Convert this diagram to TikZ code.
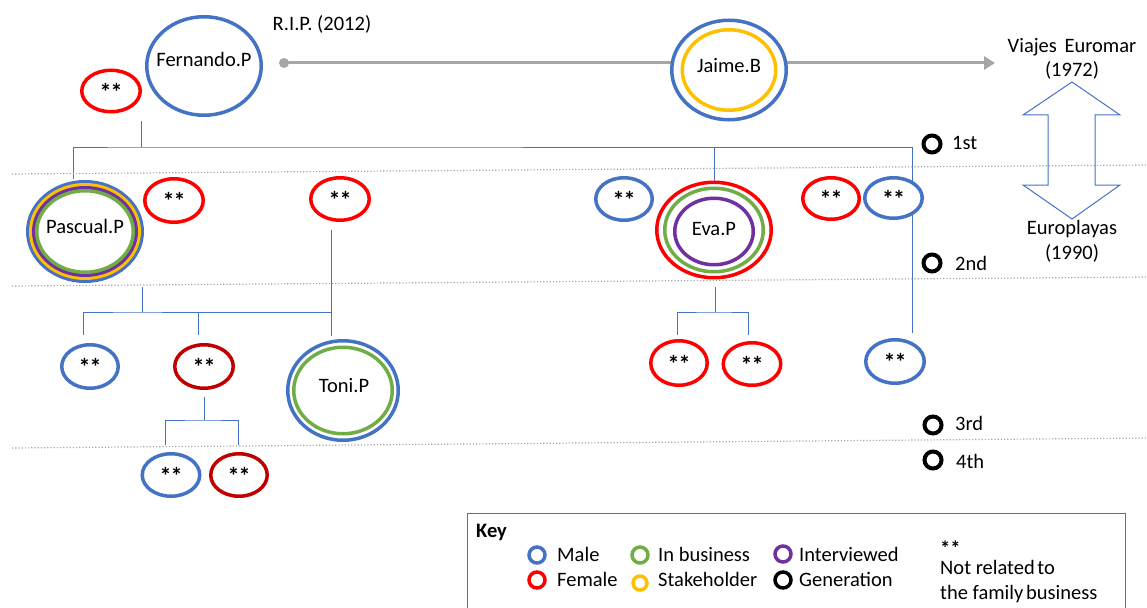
\documentclass[tikz,border=0pt]{standalone}
\usepackage{fontspec}
\setmainfont{Carlito}
\usetikzlibrary{shapes.geometric,arrows.meta,backgrounds}

\definecolor{mblue}{RGB}{68,114,196}
\definecolor{fred}{RGB}{255,0,0}
\definecolor{dred}{RGB}{192,0,0}
\definecolor{bgreen}{RGB}{112,173,71}
\definecolor{sgold}{RGB}{255,192,0}
\definecolor{ipurple}{RGB}{112,48,160}
\definecolor{arrowgrey}{RGB}{166,166,166}
\definecolor{dotgrey}{RGB}{165,165,165}

\newcommand{\starmark}{*\kern-1pt*}

\begin{document}
\begin{tikzpicture}[x=1pt,y=-1pt,
  every node/.style={font=\fontsize{20.5}{24}\selectfont},
  person/.style n args={3}{ellipse, draw=#1, line width=3.5pt, fill=white,
    inner sep=0pt, outer sep=0pt, minimum width=#2, minimum height=#3},
  txt/.style={inner sep=0pt, text height=0.65em, text depth=0.15em},
  stars/.style={inner sep=0pt, text height=0.65em, text depth=0.15em,
    font=\fontsize{24}{24}\selectfont\bfseries, yshift=-6.5pt},
  lbl/.style={inner sep=0pt, anchor=base},
  lblw/.style={inner sep=0pt, anchor=base west},
  ringline/.style={line width=3.5pt},
  tree/.style={draw=mblue, line width=1pt},
  sepline/.style={draw=dotgrey, line width=1.2pt, dotted},
  gen/.style={circle, draw=black, line width=4pt, minimum size=17pt, inner sep=0pt},
  keydot/.style={circle, draw=#1, line width=3.5pt, minimum size=16pt, inner sep=0pt},
]
\useasboundingbox (0,0) rectangle (1147,607);

% ---------- generation separators ----------
\draw[sepline] (12,174) -- (1147,165);
\draw[sepline] (12,286) -- (1147,277);
\draw[sepline] (12,448) -- (1147,438);

% ---------- first generation ----------
\node[person={mblue}{114.5pt}{98.5pt}] (fer) at (204,66) {};
\node[txt] (fer-t) at (204,64) {Fernando.P};
\node[person={fred}{58.5pt}{41.5pt}] (ferW) at (111,91) {};
\node[stars] (ferW-t) at (ferW) {\starmark};

\node[txt] (rip) at (322,28) {R.I.P. (2012)};

\node[person={mblue}{114.5pt}{99.5pt}] (jai) at (729,70) {};
\draw[ringline, sgold] (jai.center) ellipse [x radius=46.75, y radius=40.25];
\node[txt] (jai-t) at (729,70) {Jaime.B};

\node[circle, fill=arrowgrey, minimum size=10pt, inner sep=0pt] (ripdot) at (284,63) {};
\coordinate (vem) at (995,63);

\node[lbl] (vem1) at (1072,52.5) {Viajes\hspace{3pt} Euromar};
\node[lbl] (vem2) at (1072,76.5) {(1972)};
\node[lbl] (eup1) at (1072,234.5) {Europlayas};
\node[lbl] (eup2) at (1072,259.5) {(1990)};

% ---------- second generation ----------
\node[person={mblue}{114.5pt}{99.5pt}] (pas) at (85,231.5) {};
\draw[ringline, sgold]   (pas.center) ellipse [x radius=54.25, y radius=46.75];
\draw[ringline, ipurple] (pas.center) ellipse [x radius=51.25, y radius=43.75];
\draw[ringline, bgreen]  (pas.center) ellipse [x radius=48.25, y radius=40.75];
\node[txt] (pas-t) at (85,231) {Pascual.P};

\node[person={fred}{58.5pt}{43.5pt}] (m2a) at (174,200.5) {};
\node[stars] (m2a-t) at (m2a) {\starmark};
\node[person={fred}{58.5pt}{42.5pt}] (m2b) at (340,199) {};
\node[stars] (m2b-t) at (m2b) {\starmark};

\node[person={mblue}{56.5pt}{42.5pt}] (e2a) at (624,199) {};
\node[stars] (e2a-t) at (e2a) {\starmark};

\node[person={fred}{114.5pt}{95.5pt}] (eva) at (714,230) {};
\draw[ringline, bgreen]  (eva.center) ellipse [x radius=49.25, y radius=41.75];
\draw[ringline, ipurple] ([yshift=-1.5pt]eva.center) ellipse [x radius=39.25, y radius=33.25];
\node[txt] (eva-t) at (714,233) {Eva.P};

\node[person={fred}{56.5pt}{41.5pt}] (e2b) at (831,198.5) {};
\node[stars] (e2b-t) at (e2b) {\starmark};
\node[person={mblue}{57.5pt}{40.5pt}] (e2c) at (893.5,198) {};
\node[stars] (e2c-t) at (e2c) {\starmark};

% ---------- third generation ----------
\node[person={mblue}{56.5pt}{43.5pt}] (c3a) at (90,366.5) {};
\node[stars] (c3a-t) at (c3a) {\starmark};
\node[person={dred}{58.5pt}{43.5pt}] (c3b) at (204,366.5) {};
\node[stars] (c3b-t) at (c3b) {\starmark};

\node[person={mblue}{110.5pt}{99.5pt}] (toni) at (343,390.5) {};
\draw[ringline, bgreen] (toni.center) ellipse [x radius=49.25, y radius=43.25];
\node[txt] (toni-t) at (344,390) {Toni.P};

\node[person={fred}{56.5pt}{44.5pt}] (c3c) at (679,363) {};
\node[stars] (c3c-t) at (c3c) {\starmark};
\node[person={fred}{57.5pt}{42.5pt}] (c3d) at (752,364) {};
\node[stars] (c3d-t) at (c3d) {\starmark};
\node[person={mblue}{58.5pt}{43.5pt}] (c3e) at (895,361.5) {};
\node[stars] (c3e-t) at (c3e) {\starmark};

% ---------- fourth generation ----------
\node[person={mblue}{57.5pt}{42.5pt}] (c4a) at (171,475) {};
\node[stars] (c4a-t) at (c4a) {\starmark};
\node[person={dred}{56.5pt}{42.5pt}] (c4b) at (239,475) {};
\node[stars] (c4b-t) at (c4b) {\starmark};

% ---------- generation markers ----------
\node[gen] (g1) at (932,144) {};
\node[anchor=west, inner sep=0pt] (g1-t) at (952,143) {1st};
\node[gen] (g2) at (932,263) {};
\node[anchor=west, inner sep=0pt] (g2-t) at (955,263) {2nd};
\node[gen] (g3) at (933,425) {};
\node[anchor=west, inner sep=0pt] (g3-t) at (955,423) {3rd};
\node[gen] (g4) at (933,460) {};
\node[anchor=west, inner sep=0pt] (g4-t) at (956,461) {4th};

% ---------- business change arrow ----------
\draw[mblue, line width=1pt, line join=miter]
  (1072,82) -- (1120,115) -- (1095,115) -- (1095,185) -- (1120,185)
  -- (1072,219) -- (1023,185) -- (1048,185) -- (1048,115) -- (1023,115) -- cycle;

% ---------- family connectors ----------
\coordinate (ferKids) at (141,121);
\coordinate (ferBar)  at (141,147);
\coordinate (pasDrop) at (73,179);
\coordinate (rightDrop) at (912,333);
\coordinate (pasKids) at (142,287);
\coordinate (pasBar)  at (142,312);
\coordinate (pasD1) at (83,335);
\coordinate (pasD2) at (198,335);
\coordinate (m2bLine) at (331,230);
\coordinate (toniTop) at (331,336);
\coordinate (evaKids) at (715,287);
\coordinate (evaBar)  at (715,312);
\coordinate (evaD1) at (677,335);
\coordinate (evaD2) at (748,335);
\coordinate (c3bKids) at (204,397);
\coordinate (c3bBar)  at (204,420);
\coordinate (c3bD1) at (165,445);
\coordinate (c3bD2) at (238,445);

\begin{scope}[on background layer]
  \draw[arrowgrey, line width=3pt, -{Triangle[length=11pt,width=13pt]}] (ripdot.center) -- (vem);
  \draw[tree] (ferKids) -- (ferBar);
  \draw[tree] (pasDrop) |- (ferBar) -| (rightDrop);
  \draw[tree] (eva.north |- ferBar) -- (eva.north);
  \draw[tree] (pasKids) -- (pasBar);
  \draw[tree] (pasD1) |- (pasBar) -| (pasD2);
  \draw[tree] (162,312) -| (toniTop);
  \draw[tree] (m2bLine) -- (toniTop);
  \draw[tree] (evaKids) -- (evaBar);
  \draw[tree] (evaD1) |- (evaBar) -| (evaD2);
  \draw[tree] (c3bKids) -- (c3bBar);
  \draw[tree] (c3bD1) |- (c3bBar) -| (c3bD2);
\end{scope}

% ---------- key ----------
\draw[mblue, line width=1pt] (467,608) -- (467,513) -- (1125,513) -- (1125,608);
\node[lblw, font=\fontsize{20.5}{24}\selectfont\bfseries] (key) at (476,537) {Key};
\node[keydot=mblue] (k1) at (537,555) {};
\node[lblw] (k1-t) at (557,561.7) {Male};
\node[keydot=fred] (k2) at (537,580) {};
\node[lblw] (k2-t) at (557,586.7) {Female};
\node[keydot=bgreen] (k3) at (640,555) {};
\node[lblw] (k3-t) at (658,561.7) {In business};
\node[keydot=sgold, minimum size=14pt] (k4) at (640,583) {};
\node[lblw] (k4-t) at (658,586.7) {Stakeholder};
\node[keydot=ipurple] (k5) at (783,554) {};
\node[lblw] (k5-t) at (799,561.7) {Interviewed};
\node[keydot=black] (k6) at (783,580) {};
\node[lblw] (k6-t) at (799,586.7) {Generation};
\node[lblw, font=\fontsize{20.5}{24}\selectfont\bfseries] (k7) at (940,555) {**};
\node[lblw] (k7-a) at (940,574) {Not related\hspace{-2pt} to};
\node[lblw] (k7-b) at (940,599.5) {the family\hspace{-2pt} business};

\end{tikzpicture}
\end{document}
